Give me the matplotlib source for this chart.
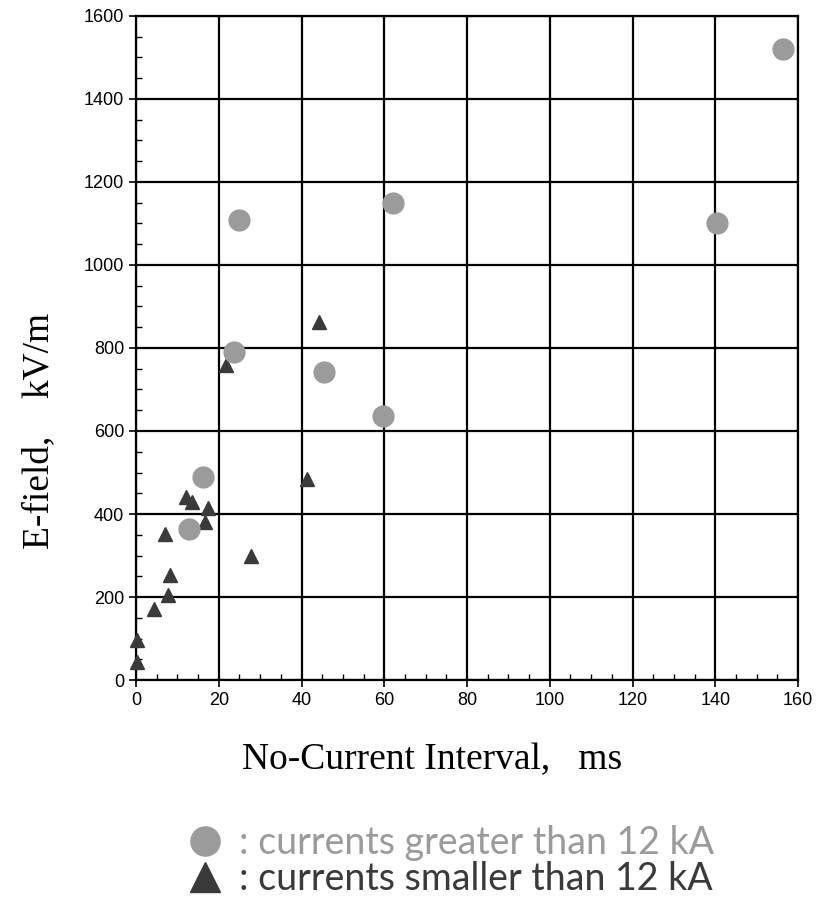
import matplotlib.pyplot as plt
from matplotlib.lines import Line2D
from matplotlib.ticker import MultipleLocator

# currents greater than 12 kA (circles)
big_x = [12.9, 16.2, 23.7, 25.0, 45.5, 59.7, 62.2, 140.5, 156.3]
big_y = [365, 490, 791, 1108, 743, 635, 1149, 1101, 1520]

# currents smaller than 12 kA (triangles)
small_x = [0.2, 0.2, 4.3, 7.8, 8.3, 7.0, 12.0, 13.5, 16.7, 17.4, 21.7, 27.9, 41.3, 44.3]
small_y = [43, 96, 171, 205, 253, 352, 440, 428, 381, 414, 759, 299, 484, 863]

legend_labels = [': currents greater than 12 kA', ': currents smaller than 12 kA']
big_color = '#9b9b9b'
small_color = '#3a3a3a'

fig = plt.figure(figsize=(8.18, 9.02), dpi=100)
ax = fig.add_axes([0.1663, 0.2461, 0.8093, 0.7362])

ax.plot(small_x, small_y, '^', ms=10, color=small_color, mec=small_color, clip_on=False, zorder=4)
ax.plot(big_x, big_y, 'o', ms=15, color=big_color, mec=big_color, clip_on=False, zorder=5)

ax.set_xlim(0, 160)
ax.set_ylim(0, 1600)
ax.xaxis.set_major_locator(MultipleLocator(20))
ax.xaxis.set_minor_locator(MultipleLocator(5))
ax.yaxis.set_major_locator(MultipleLocator(200))
ax.yaxis.set_minor_locator(MultipleLocator(50))
ax.grid(True, which='major', color='black', lw=1.6)
ax.set_axisbelow(True)
for s in ax.spines.values():
    s.set_linewidth(1.6)
ax.tick_params(which='major', direction='out', length=5, width=1.2, labelsize=13,
               labelfontfamily='Liberation Sans')
ax.tick_params(which='minor', direction='in', length=4, width=1)

ax.set_xlabel('No-Current Interval,   ms', family='Liberation Serif', fontsize=27)
ax.set_ylabel('E-field,    kV/m', family='Liberation Serif', fontsize=27)
ax.xaxis.set_label_coords(0.447, -0.095)
ax.yaxis.set_label_coords(-0.12, 0.375)

handles = [
    Line2D([], [], ls='none', marker='o', ms=21, color=big_color, mec=big_color),
    Line2D([], [], ls='none', marker='^', ms=21, color=small_color, mec=small_color),
]
fig.legend(handles, legend_labels, loc='center', bbox_to_anchor=(0.55, 0.045),
           frameon=False, prop={'family': 'Lato', 'size': 27},
           labelcolor=[big_color, small_color], handletextpad=0.4,
           labelspacing=0.0, handlelength=1.0, borderpad=0)

fig.savefig('out.png', dpi=100)
